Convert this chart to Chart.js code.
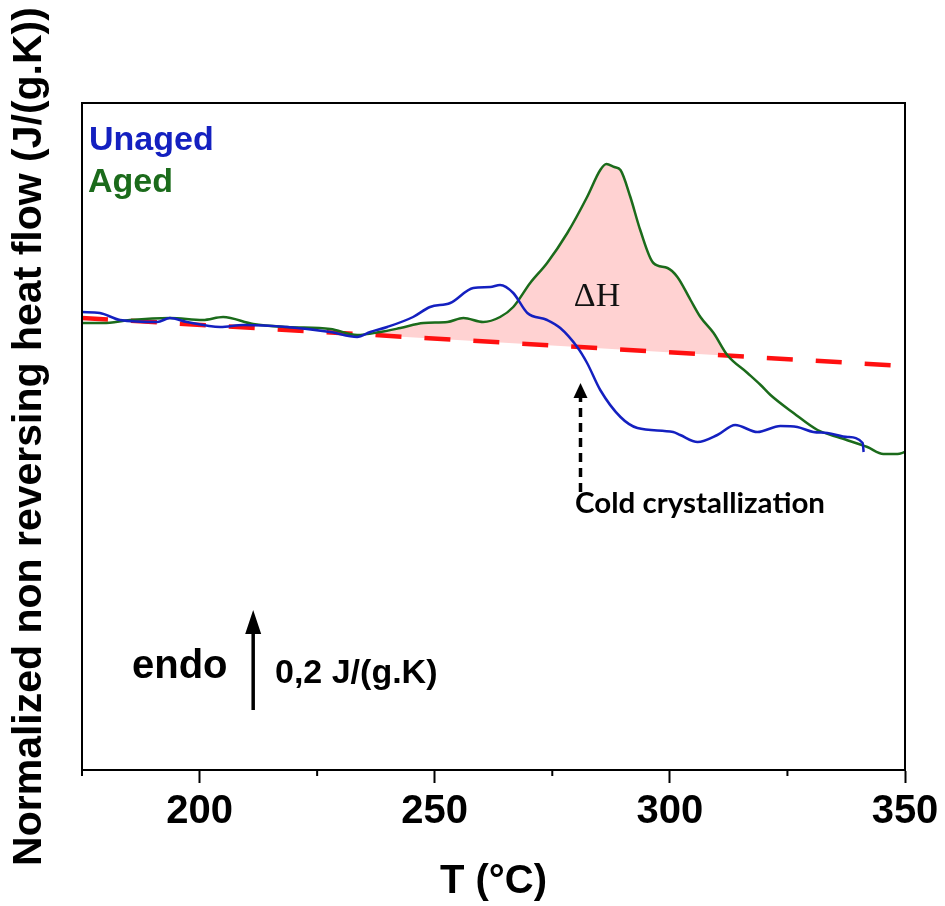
<!DOCTYPE html>
<html>
<head>
<meta charset="utf-8">
<script src="https://cdn.jsdelivr.net/npm/chart.js@4.4.0/dist/chart.umd.min.js"></script>
<style>
  body{ margin:0; background:#fff; }
  #wrap{ width:945px; height:906px; }
</style>
</head>
<body>
<div id="wrap"><canvas id="chart" width="945" height="906"></canvas></div>
<script>
/* DATA (T in °C, heat flow in J/(g.K), arbitrary offset) */
const unagedT = [175.0,178.8,183.1,191.0,193.7,197.3,204.4,209.3,218.6,227.8,233.5,236.3,239.9,245.4,249.0,253.3,258.2,261.8,263.9,266.7,269.7,273.9,276.7,280.3,282.4,285.2,289.5,293.1,300.7,302.2,305.9,310.1,313.9,318.6,323.5,327.1,330.5,333.5,337.8,341.0,341.2];
const unagedY = [0.916,0.914,0.900,0.896,0.904,0.896,0.886,0.890,0.886,0.876,0.866,0.876,0.886,0.906,0.926,0.934,0.964,0.966,0.970,0.954,0.914,0.900,0.884,0.846,0.814,0.760,0.706,0.684,0.676,0.670,0.656,0.670,0.690,0.676,0.688,0.686,0.676,0.674,0.666,0.654,0.636];

const agedT = [175.0,179.5,185.2,193.7,200.7,205.0,211.4,218.6,227.8,233.5,238.4,242.7,247.6,252.7,256.1,260.3,263.9,266.7,270.3,273.9,278.2,282.4,285.2,286.5,288.2,289.5,291.6,293.7,296.5,299.5,301.6,304.4,306.5,309.3,312.2,316.5,319.3,321.4,326.3,331.4,336.3,342.0,345.4,348.4,350.0];
const agedY = [0.894,0.894,0.900,0.904,0.900,0.906,0.892,0.886,0.882,0.870,0.876,0.884,0.894,0.896,0.904,0.896,0.906,0.926,0.974,1.014,1.074,1.146,1.200,1.212,1.206,1.200,1.146,1.080,1.014,1.004,0.986,0.940,0.906,0.874,0.830,0.794,0.770,0.750,0.714,0.680,0.664,0.646,0.632,0.632,0.636];

const baseT = [175, 350];
const baseY = [0.904, 0.808];

// range of the aged peak that is integrated (ΔH)
const peakRange = [238, 312.5];

const xTicks = [200, 250, 300, 350];

/* COLOURS / FONTS */
const BLUE = "#1420c0";
const GREEN = "#1b6b1b";
const SANS = "'Liberation Sans', Arial, Helvetica, sans-serif";

function pts(xs, ys){ return xs.map((x,i)=>({x:x, y:ys[i]})); }

const peakPts = pts(agedT, agedY).filter(p=>p.x>=peakRange[0] && p.x<=peakRange[1]);

/* ANNOTATIONS */
const annot = {
  id:"annot",
  afterDraw(chart){
    const c = chart.ctx, a = chart.chartArea;
    const xs = chart.scales.x, ys = chart.scales.y;
    c.save();

    // minor ticks
    c.strokeStyle="#000"; c.lineWidth=2;
    [175,225,275,325].forEach(v=>{
      const px = xs.getPixelForValue(v);
      c.beginPath(); c.moveTo(px, a.bottom); c.lineTo(px, a.bottom+6); c.stroke();
    });

    // frame
    c.lineWidth=2;
    c.strokeRect(a.left, a.top, a.right-a.left, a.bottom-a.top);

    // legend texts
    c.textBaseline="alphabetic"; c.textAlign="left";
    c.font="bold 34px "+SANS;
    c.fillStyle=BLUE; c.fillText("Unaged", 89, 150);
    c.fillStyle=GREEN; c.fillText("Aged", 88, 192);

    // delta H
    c.fillStyle="#111";
    c.font="34px 'Liberation Serif', 'Times New Roman', serif";
    c.textAlign="center";
    c.fillText("\u0394H", 597, 306);

    // endo + scale bar
    c.textAlign="left";
    c.font="bold 40px "+SANS;
    c.fillStyle="#000";
    c.fillText("endo", 132, 678);
    c.font="bold 34px "+SANS;
    c.fillText("0,2 J/(g.K)", 275, 683);

    const bx = xs.getPixelForValue(211.4);
    const by0 = ys.getPixelForValue(0.12), by1 = ys.getPixelForValue(0.32);
    c.strokeStyle="#000"; c.lineWidth=3.5;
    c.beginPath(); c.moveTo(bx, by0); c.lineTo(bx, by1+18); c.stroke();
    c.beginPath(); c.moveTo(bx, by1); c.lineTo(bx-8, by1+24); c.lineTo(bx+8, by1+24); c.closePath(); c.fill();

    // cold crystallization arrow
    const cx = xs.getPixelForValue(281);
    const cy0 = ys.getPixelForValue(0.556), cy1 = ys.getPixelForValue(0.774);
    c.setLineDash([9,6]); c.lineWidth=3.5;
    c.beginPath(); c.moveTo(cx, cy0); c.lineTo(cx, cy1+14); c.stroke();
    c.setLineDash([]);
    c.beginPath(); c.moveTo(cx, cy1); c.lineTo(cx-7, cy1+15); c.lineTo(cx+7, cy1+15); c.closePath(); c.fill();

    c.font="bold 28px Lato, 'Open Sans', sans-serif";
    const label="Cold crystallization";
    const w = c.measureText(label).width;
    c.save();
    c.translate(575, 513);
    c.scale(250/w, 1);
    c.fillText(label, 0, 0);
    c.restore();

    c.restore();
  }
};

new Chart(document.getElementById("chart"), {
  type:"line",
  data:{
    datasets:[
      { label:"Unaged", data:pts(unagedT, unagedY), borderColor:BLUE, borderWidth:2.5,
        pointRadius:0, cubicInterpolationMode:"monotone", fill:false },
      { label:"Aged", data:pts(agedT, agedY), borderColor:GREEN, borderWidth:2.5,
        pointRadius:0, cubicInterpolationMode:"monotone", fill:false },
      { label:"baseline", data:pts(baseT, baseY), borderColor:"#ff1010", borderWidth:4.5,
        borderDash:[26,23], pointRadius:0, fill:false },
      { label:"dH", data:peakPts, borderWidth:0, borderColor:"rgba(0,0,0,0)", pointRadius:0,
        cubicInterpolationMode:"monotone", backgroundColor:"#ffd2d2", fill:{target:2} }
    ]
  },
  options:{
    responsive:false,
    animation:false,
    devicePixelRatio:1,
    layout:{ padding:{ left:0, top:103, right:40, bottom:0 } },
    plugins:{ legend:{display:false}, tooltip:{enabled:false} },
    scales:{
      x:{
        type:"linear", min:175, max:350,
        ticks:{
          stepSize:25, autoSkip:false, maxRotation:0, padding:5, color:"#000",
          font:{ family:SANS, size:40, weight:"bold" },
          callback:v => xTicks.includes(v) ? String(v) : ""
        },
        grid:{ drawOnChartArea:false, drawTicks:true, tickLength:13, tickWidth:2,
          tickColor:ctx => (ctx.tick && xTicks.includes(ctx.tick.value)) ? "#000" : "rgba(0,0,0,0)" },
        border:{ display:true, color:"#000", width:2 },
        title:{ display:true, text:"T (\u00b0C)", color:"#000",
          font:{ family:SANS, size:40, weight:"bold" }, padding:{top:0, bottom:0} },
        afterFit:s => { s.height = 136; s.paddingLeft = 0; s.paddingRight = 0; }
      },
      y:{
        min:0, max:1.334,
        ticks:{ display:false },
        grid:{ display:false },
        border:{ display:true, color:"#000", width:2 },
        title:{ display:true, text:"Normalized non reversing heat flow (J/(g.K))", color:"#000",
          font:{ family:SANS, size:41, weight:"bold" }, padding:{top:5, bottom:0} },
        afterFit:s => { s.width = 82; }
      }
    }
  },
  plugins:[annot]
});
</script>
</body>
</html>
